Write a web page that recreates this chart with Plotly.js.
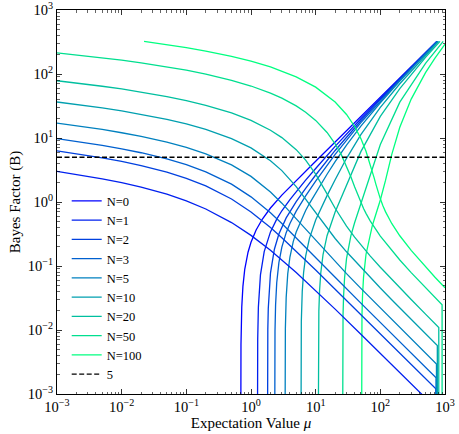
<!DOCTYPE html>
<html>
<head>
<meta charset="utf-8">
<script src="https://cdn.plot.ly/plotly-3.0.1.min.js"></script>
<style>html,body{margin:0;padding:0;background:#fff;}#chart{width:459px;height:434px;}</style>
</head>
<body>
<div id="chart"></div>
<script>
// ---- data: series labels and colours ----
const seriesLabels = ['N=0','N=1','N=2','N=3','N=5','N=10','N=20','N=50','N=100'];
const seriesColors = ['rgb(0,0,255)','rgb(0,32,239)','rgb(0,64,223)','rgb(0,96,207)','rgb(0,128,191)','rgb(0,159,175)','rgb(0,191,159)','rgb(0,223,143)','rgb(0,255,128)'];

// ---- axis tick labels ----
const tickValues = [0.001, 0.01, 0.1, 1, 10, 100, 1000];
const tickLabels = ['10<sup>−3</sup>','10<sup>−2</sup>','10<sup>−1</sup>','10<sup>0</sup>','10<sup>1</sup>','10<sup>2</sup>','10<sup>3</sup>'];

// ---- rising branches (mu, B) ----
const riseMu0 = [0.6932,0.6935,0.695,0.70,0.72,0.75,0.8,0.9,1.0,1.2,1.5,2,3,5,7,10,20,50,100,200,500,745];
const riseB0  = [0.00005,0.00035,0.00165,0.00593,0.0230,0.0480,0.0883,0.1642,0.2351,0.3655,0.5418,0.8055,1.2807,2.1685,3.0397,4.3429,8.6859,21.715,43.429,86.859,217.15,323.55];
const riseMu1 = [1.2566,1.2575,1.26,1.27,1.3,1.4,1.6,2,2.5,3,4,5,7,10,20,50,100,200,500,751];
const riseB1  = [0.0001,0.00058,0.00188,0.00711,0.02255,0.07272,0.1675,0.3413,0.5407,0.7293,1.0934,1.4546,2.1918,3.3427,7.385,20.016,41.429,84.558,214.45,323.3];
const riseMu2 = [1.7933,1.7945,1.797,1.805,1.82,1.85,1.9,2.0,2.3,2.7,3.5,5,7,10,20,50,100,200,500,757];
const riseB2  = [0.00004,0.0005,0.00146,0.00453,0.01023,0.02161,0.04041,0.0772,0.1828,0.3154,0.5649,1.0168,1.6378,2.6428,6.3849,18.618,39.73,82.558,212.05,323.3];
const riseMu3 = [2.3187,2.3197,2.322,2.33,2.35,2.4,2.5,2.7,3,3.5,4,5,7,10,15,20,50,100,200,500,762.5];
const riseB3  = [0.00006,0.00037,0.00107,0.00353,0.00965,0.02476,0.05464,0.11288,0.19717,0.3319,0.46237,0.71898,1.2459,2.1166,3.7642,5.5609,17.396,38.207,80.734,209.83,323.3];
const riseMu5 = [3.3525,3.3545,3.357,3.37,3.4,3.5,3.7,4,4.5,5,6,7,8,10,15,20,30,50,100,200,500,772.9];
const riseB5  = [0.00009,0.00053,0.00108,0.00395,0.01054,0.03235,0.07526,0.13823,0.24031,0.34017,0.53796,0.73842,0.94591,1.39197,2.71193,4.25989,7.7224,15.299,35.508,77.433,205.73,323.3];
const riseMu10 = [5.8966,5.9,5.905,5.92,5.95,6.0,6.2,6.5,7,8,10,12,15,20,30,50,100,200,500,796];
const riseB10  = [0.00003,0.00047,0.00114,0.00313,0.00709,0.013641,0.0400,0.078574,0.142374,0.268306,0.5228,0.79425,1.25851,2.23063,4.81738,11.2848,30.0892,70.4084,196.717,323.3];
const riseMu20 = [10.935,10.94,10.95,10.97,11,11.2,11.5,12,13,15,20,25,30,40,50,100,200,500,836.6];
const riseB20  = [0.0001,0.00047,0.00122,0.00271,0.004928,0.01966,0.041793,0.078408,0.151233,0.297643,0.6957,1.1956,1.857,3.7167,6.1216,21.8155,59.2244,181.554,323.3];
const riseMu50 = [25.968,25.975,25.99,26.0,26.1,26.5,27,28,30,35,40,45,50,55,60,70,100,200,500,938];
const riseB50  = [0.00003,0.00026,0.00075,0.00106,0.004318,0.017216,0.033355,0.065566,0.130082,0.295161,0.473069,0.67451,0.91439,1.21048,1.58365,2.6255,7.9128,36.2905,146.682,323.3];
const riseMu100 = [50.983,51.0,51.05,51.2,51.5,52,53,55,60,70,75,80,85,90,100,120,150,200,300,500,700,1000];
const riseB100  = [0.00002,0.0003,0.001136,0.003637,0.00871,0.017024,0.03369,0.067163,0.151341,0.327073,0.4234,0.52402,0.63646,0.76167,1.0747,2.15186,5.505,14.7259,40.5463,105.2202,177.466,292.264];

// ---- falling branches (mu, B); last point is where the curve drops out ----
const fallMu1 = [0.001,0.002,0.005,0.01,0.02,0.05,0.1,0.2,0.5,1,2,5,10,20,50,100,200,500,716.35,716.35];
const fallB1  = [3.00043,2.69984,2.3032,2.00432,1.70757,1.32222,1.04139,0.77815,0.47712,0.30103,0.17609,0.07918,0.04139,0.02119,0.0086,0.004321,0.002166,0.000868,0.000606,1e-9];
const fallMu2 = [0.001,0.002,0.005,0.01,0.02,0.05,0.1,0.2,0.5,1,2,3,5,7,10,20,50,100,200,500,700,722.25,722.25];
const fallB2  = [6.30147,5.69984,4.90526,4.30538,3.70766,2.9248,2.34439,1.78533,1.11394,0.69897,0.39794,0.27621,0.17026,0.12271,0.08636,0.04336,0.017368,0.008685,0.004343,0.001737,0.001241,0.001203,1e-9];
const fallMu3 = [0.001,0.002,0.005,0.01,0.02,0.05,0.1,0.2,0.5,1,2,3,5,7,10,20,50,100,200,500,700,727.8,727.8];
const fallB3  = [9.77859,8.87593,7.68341,6.78249,5.88375,4.70295,3.82158,2.9619,1.89763,1.20412,0.67669,0.46073,0.276,0.19548,0.13545,0.0666,0.026308,0.013092,0.006532,0.002609,0.001863,0.001791,1e-9];
const fallMu5 = [0.001,0.002,0.005,0.01,0.02,0.05,0.1,0.2,0.5,1,2,3,5,7,10,15,20,30,50,100,200,500,700,738,738];
const fallB5  = [17.07962,15.5749,13.5865,12.07964,10.58271,8.60605,7.12261,5.66089,3.80147,2.51322,1.43537,0.9584,0.54535,0.3719,0.24875,0.15913,0.11671,0.07601,0.044736,0.022048,0.010937,0.004356,0.003109,0.002948,1e-9];
const fallMu10 = [0.001,0.002,0.005,0.01,0.02,0.05,0.1,0.2,0.5,1,2,3,5,7,10,15,20,30,50,70,100,150,200,300,500,700,761,761];
const fallB10  = [36.56019,33.55033,29.57223,26.5641,23.55815,19.59178,16.60319,13.63632,9.78721,6.99405,4.41805,3.09131,1.73555,1.1038,0.6684,0.38686,0.26925,0.16664,0.09436,0.0658,0.04523,0.02975,0.02216,0.014677,0.008757,0.006241,0.005737,1e-9];
const fallMu20 = [0.001,0.002,0.005,0.01,0.02,0.05,0.1,0.2,0.5,1,2,3,5,7,10,12,15,20,25,30,40,50,70,100,150,200,300,500,700,801.2,801.2];
const fallB20  = [78.38655,72.36639,64.40889,58.39046,52.37421,44.42844,38.42955,32.45238,24.62387,18.82041,13.23411,10.14657,6.57819,4.52422,2.72837,2.00897,1.34109,0.79889,0.55278,0.42011,0.28292,0.21318,0.14285,0.0956,0.06164,0.04549,0.0299,0.017691,0.012571,0.010963,1e-9];
const fallMu50 = [0.001,0.002,0.005,0.01,0.02,0.05,0.1,0.2,0.5,1,2,3,5,7,10,15,20,25,30,35,40,45,50,55,60,70,100,150,200,300,500,700,901.5,901.5];
const fallB50  = [214.4835,199.4324,179.5367,164.4874,149.4403,129.5563,114.5265,99.5184,79.7517,64.9174,50.3002,41.9299,31.706,25.2682,18.826,12.1929,8.1175,5.4434,3.6557,2.4771,1.7286,1.2669,0.9796,0.7931,0.6653,0.50334,0.29302,0.17398,0.12399,0.07884,0.04565,0.03214,0.02476,1e-9];
const fallMu100 = [0.0222,0.03,0.05,0.1,0.2,0.5,1,2,5,10,20,30,40,50,60,70,75,80,85,90,95,100,110,120,150,200,300,500,700,1000];
const fallB100  = [323.34,310.27,288.1,258.01,227.95,188.29,158.4,128.74,90.245,62.313,36.553,23.287,15.136,9.788,6.2128,3.8607,3.035,2.399,1.9212,1.5695,1.3116,1.1209,0.86609,0.70715,0.46171,0.29687,0.17502,0.09664,0.06683,0.04574];

// ---- threshold line ----
const thresholdLabel = '5';
const thresholdValue = 5;
const thresholdMu = [0.001, 1000];

const riseSets = [[riseMu0,riseB0],[riseMu1,riseB1],[riseMu2,riseB2],[riseMu3,riseB3],[riseMu5,riseB5],[riseMu10,riseB10],[riseMu20,riseB20],[riseMu50,riseB50],[riseMu100,riseB100]];
const fallSets = [null,[fallMu1,fallB1],[fallMu2,fallB2],[fallMu3,fallB3],[fallMu5,fallB5],[fallMu10,fallB10],[fallMu20,fallB20],[fallMu50,fallB50],[fallMu100,fallB100]];

const traces = [];
seriesLabels.forEach((lab, i) => {
  traces.push({x: riseSets[i][0], y: riseSets[i][1], type: 'scatter', mode: 'lines', name: lab,
    line: {color: seriesColors[i], width: 1.3}, showlegend: true});
});
seriesLabels.forEach((lab, i) => {
  if (!fallSets[i]) return;
  traces.push({x: fallSets[i][0], y: fallSets[i][1], type: 'scatter', mode: 'lines', name: lab,
    line: {color: seriesColors[i], width: 1.3}, showlegend: false});
});
traces.push({x: thresholdMu, y: thresholdMu.map(() => thresholdValue), type: 'scatter', mode: 'lines',
  name: thresholdLabel, line: {color: '#000', width: 1.3, dash: '5px,2.5px'}, showlegend: true});

// minor tick positions (2..9 in every decade)
const minorVals = [];
for (let e = -3; e < 3; e++) { for (let d = 2; d <= 9; d++) minorVals.push(d * Math.pow(10, e)); }

const fontFam = 'Liberation Serif, Times New Roman, serif';
const axisCommon = {
  type: 'log', range: [-3, 3], tickmode: 'array', tickvals: tickValues, ticktext: tickLabels,
  showline: true, linecolor: '#000', linewidth: 1, mirror: 'ticks',
  ticks: 'inside', ticklen: 5, tickwidth: 0.8, tickcolor: '#000',
  showgrid: false, zeroline: false, ticklabeloverflow: 'allow',
  tickfont: {family: fontFam, size: 14.5, color: '#000'},
  minor: {ticks: 'inside', ticklen: 2.5, tickwidth: 0.6, tickcolor: '#000', tickmode: 'array', tickvals: minorVals, showgrid: false}
};

const layout = {
  width: 459, height: 434,
  margin: {l: 57, r: 14, t: 10, b: 40},
  paper_bgcolor: '#fff', plot_bgcolor: '#fff',
  font: {family: fontFam, size: 13, color: '#000'},
  xaxis: Object.assign({}, axisCommon, {title: {text: 'Expectation Value <i>μ</i>', font: {family: fontFam, size: 15}, standoff: 1}}),
  yaxis: Object.assign({}, axisCommon, {title: {text: 'Bayes Factor (B)', font: {family: fontFam, size: 15}, standoff: 3}}),
  showlegend: true,
  legend: {x: 0.025, y: 0.541, xanchor: 'left', yanchor: 'top', bgcolor: 'rgba(0,0,0,0)', borderwidth: 0,
    font: {family: fontFam, size: 12.5, color: '#000'}, tracegroupgap: 0, itemwidth: 30, traceorder: 'normal'}
};

Plotly.newPlot('chart', traces, layout, {staticPlot: true, displayModeBar: false});
</script>
</body>
</html>
